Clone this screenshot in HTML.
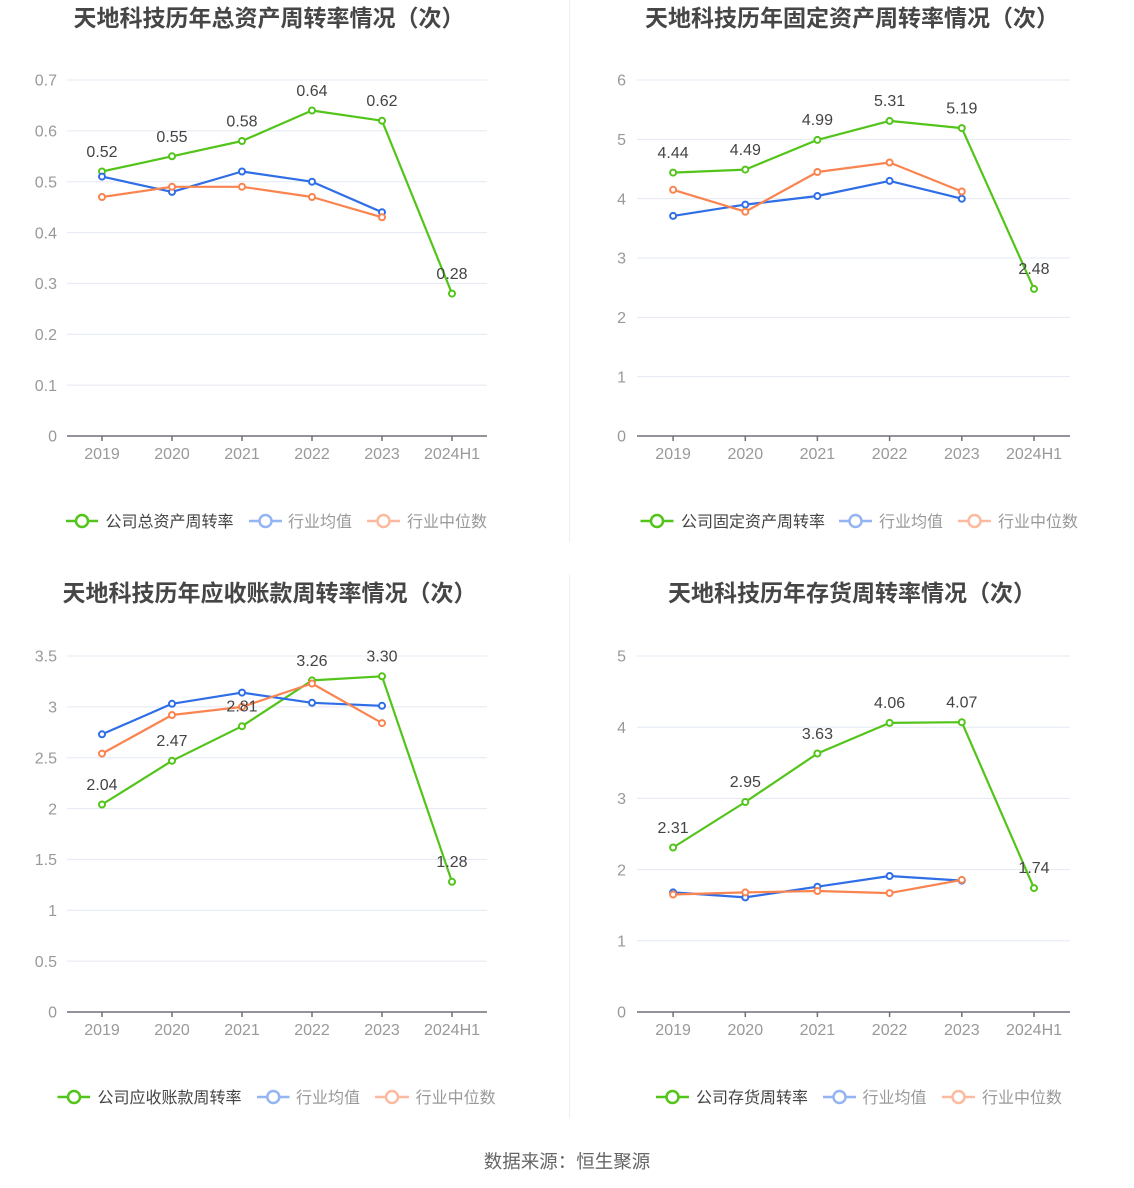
<!DOCTYPE html>
<html><head><meta charset="utf-8"><style>
html,body{margin:0;padding:0;background:#fff;}
svg{display:block;}
.t{font-family:"Liberation Sans","Noto Sans CJK SC",sans-serif;font-weight:bold;font-size:23px;fill:#464646;text-anchor:middle;}
.yl{font-family:"Liberation Sans",sans-serif;font-size:16px;fill:#999;text-anchor:end;}
.xl{font-family:"Liberation Sans",sans-serif;font-size:16px;fill:#999;text-anchor:middle;}
.dl{font-family:"Liberation Sans",sans-serif;font-size:16px;fill:#444;text-anchor:middle;}
.lg{font-family:"Liberation Sans","Noto Sans CJK SC",sans-serif;font-size:16px;fill:#444;}
.lg2{font-family:"Liberation Sans","Noto Sans CJK SC",sans-serif;font-size:16px;fill:#999;}
.ft{font-family:"Liberation Sans","Noto Sans CJK SC",sans-serif;font-size:18.5px;fill:#666;text-anchor:middle;}
.g{stroke:#e3e8f3;stroke-width:1;}
.ax{stroke:#6e7079;stroke-width:1.5;}
.sg{fill:none;stroke:#52c41a;stroke-width:2.2;stroke-linejoin:round;}
.sb{fill:none;stroke:#2f6ee6;stroke-width:2.2;stroke-linejoin:round;}
.so{fill:none;stroke:#fa8450;stroke-width:2.2;stroke-linejoin:round;}
.mg circle{fill:#fff;stroke:#52c41a;stroke-width:2;}
.mb circle{fill:#fff;stroke:#2f6ee6;stroke-width:2;}
.mo circle{fill:#fff;stroke:#fa8450;stroke-width:2;}
</style></head><body>
<svg width="1134" height="1188" viewBox="0 0 1134 1188" xmlns="http://www.w3.org/2000/svg">
<rect width="1134" height="1188" fill="#fff"/>
<line x1="569.5" y1="0" x2="569.5" y2="542" stroke="#eeeeee" stroke-width="1"/>
<line x1="569.5" y1="575" x2="569.5" y2="1118" stroke="#eeeeee" stroke-width="1"/>

<!-- ========== Chart 1 ========== -->
<text class="t" x="269" y="26">天地科技历年总资产周转率情况（次）</text>
<g>
<line class="g" x1="67" y1="80" x2="487" y2="80"/>
<line class="g" x1="67" y1="130.86" x2="487" y2="130.86"/>
<line class="g" x1="67" y1="181.71" x2="487" y2="181.71"/>
<line class="g" x1="67" y1="232.57" x2="487" y2="232.57"/>
<line class="g" x1="67" y1="283.43" x2="487" y2="283.43"/>
<line class="g" x1="67" y1="334.29" x2="487" y2="334.29"/>
<line class="g" x1="67" y1="385.14" x2="487" y2="385.14"/>
<line class="ax" x1="67" y1="436" x2="487" y2="436"/>
<line class="ax" x1="102" y1="436" x2="102" y2="441"/><line class="ax" x1="172" y1="436" x2="172" y2="441"/><line class="ax" x1="242" y1="436" x2="242" y2="441"/><line class="ax" x1="312" y1="436" x2="312" y2="441"/><line class="ax" x1="382" y1="436" x2="382" y2="441"/><line class="ax" x1="452" y1="436" x2="452" y2="441"/>
<text class="yl" x="57" y="85.7">0.7</text><text class="yl" x="57" y="136.6">0.6</text><text class="yl" x="57" y="187.4">0.5</text><text class="yl" x="57" y="238.3">0.4</text><text class="yl" x="57" y="289.1">0.3</text><text class="yl" x="57" y="340">0.2</text><text class="yl" x="57" y="390.8">0.1</text><text class="yl" x="57" y="441.7">0</text>
<text class="xl" x="102" y="459">2019</text><text class="xl" x="172" y="459">2020</text><text class="xl" x="242" y="459">2021</text><text class="xl" x="312" y="459">2022</text><text class="xl" x="382" y="459">2023</text><text class="xl" x="452" y="459">2024H1</text>
<polyline class="sg" points="102,171.5 172,156.3 242,141 312,110.5 382,120.7 452,293.6"/>
<polyline class="sb" points="102,176.6 172,191.9 242,171.5 312,181.7 382,212.2"/>
<polyline class="so" points="102,197 172,186.8 242,186.8 312,197 382,217.3"/>
<g class="mg"><circle cx="102" cy="171.5" r="3"/><circle cx="172" cy="156.3" r="3"/><circle cx="242" cy="141" r="3"/><circle cx="312" cy="110.5" r="3"/><circle cx="382" cy="120.7" r="3"/><circle cx="452" cy="293.6" r="3"/></g>
<g class="mb"><circle cx="102" cy="176.6" r="3"/><circle cx="172" cy="191.9" r="3"/><circle cx="242" cy="171.5" r="3"/><circle cx="312" cy="181.7" r="3"/><circle cx="382" cy="212.2" r="3"/></g>
<g class="mo"><circle cx="102" cy="197" r="3"/><circle cx="172" cy="186.8" r="3"/><circle cx="242" cy="186.8" r="3"/><circle cx="312" cy="197" r="3"/><circle cx="382" cy="217.3" r="3"/></g>
<text class="dl" x="102" y="157">0.52</text><text class="dl" x="172" y="142">0.55</text><text class="dl" x="242" y="126.5">0.58</text><text class="dl" x="312" y="96">0.64</text><text class="dl" x="382" y="106">0.62</text><text class="dl" x="452" y="279">0.28</text>
<line x1="66" y1="521" x2="98" y2="521" stroke="#52c41a" stroke-width="2.5"/><circle cx="82" cy="521" r="6" fill="#fff" stroke="#52c41a" stroke-width="2.5"/>
<text class="lg" x="105.5" y="527">公司总资产周转率</text>
<line x1="249" y1="521" x2="282" y2="521" stroke="#94b5f3" stroke-width="2.5"/><circle cx="265.5" cy="521" r="6" fill="#fff" stroke="#94b5f3" stroke-width="2.5"/>
<text class="lg2" x="288" y="527">行业均值</text>
<line x1="367" y1="521" x2="400" y2="521" stroke="#fcbaa0" stroke-width="2.5"/><circle cx="383.5" cy="521" r="6" fill="#fff" stroke="#fcbaa0" stroke-width="2.5"/>
<text class="lg2" x="407" y="527">行业中位数</text>
</g>

<!-- ========== Chart 2 ========== -->
<text class="t" x="852" y="26">天地科技历年固定资产周转率情况（次）</text>
<g>
<line class="g" x1="637" y1="80" x2="1070" y2="80"/>
<line class="g" x1="637" y1="139.33" x2="1070" y2="139.33"/>
<line class="g" x1="637" y1="198.67" x2="1070" y2="198.67"/>
<line class="g" x1="637" y1="258" x2="1070" y2="258"/>
<line class="g" x1="637" y1="317.33" x2="1070" y2="317.33"/>
<line class="g" x1="637" y1="376.67" x2="1070" y2="376.67"/>
<line class="ax" x1="637" y1="436" x2="1070" y2="436"/>
<line class="ax" x1="673.1" y1="436" x2="673.1" y2="441"/><line class="ax" x1="745.3" y1="436" x2="745.3" y2="441"/><line class="ax" x1="817.4" y1="436" x2="817.4" y2="441"/><line class="ax" x1="889.6" y1="436" x2="889.6" y2="441"/><line class="ax" x1="961.8" y1="436" x2="961.8" y2="441"/><line class="ax" x1="1034" y1="436" x2="1034" y2="441"/>
<text class="yl" x="626" y="85.7">6</text><text class="yl" x="626" y="145">5</text><text class="yl" x="626" y="204.4">4</text><text class="yl" x="626" y="263.7">3</text><text class="yl" x="626" y="323">2</text><text class="yl" x="626" y="382.4">1</text><text class="yl" x="626" y="441.7">0</text>
<text class="xl" x="673.1" y="459">2019</text><text class="xl" x="745.3" y="459">2020</text><text class="xl" x="817.4" y="459">2021</text><text class="xl" x="889.6" y="459">2022</text><text class="xl" x="961.8" y="459">2023</text><text class="xl" x="1034" y="459">2024H1</text>
<polyline class="sg" points="673.1,172.6 745.3,169.6 817.4,139.9 889.6,120.9 961.8,128.1 1034,288.9"/>
<polyline class="sb" points="673.1,215.9 745.3,204.6 817.4,196 889.6,180.9 961.8,198.7"/>
<polyline class="so" points="673.1,189.8 745.3,211.7 817.4,172 889.6,162.5 961.8,191.5"/>
<g class="mg"><circle cx="673.1" cy="172.6" r="3"/><circle cx="745.3" cy="169.6" r="3"/><circle cx="817.4" cy="139.9" r="3"/><circle cx="889.6" cy="120.9" r="3"/><circle cx="961.8" cy="128.1" r="3"/><circle cx="1034" cy="288.9" r="3"/></g>
<g class="mb"><circle cx="673.1" cy="215.9" r="3"/><circle cx="745.3" cy="204.6" r="3"/><circle cx="817.4" cy="196" r="3"/><circle cx="889.6" cy="180.9" r="3"/><circle cx="961.8" cy="198.7" r="3"/></g>
<g class="mo"><circle cx="673.1" cy="189.8" r="3"/><circle cx="745.3" cy="211.7" r="3"/><circle cx="817.4" cy="172" r="3"/><circle cx="889.6" cy="162.5" r="3"/><circle cx="961.8" cy="191.5" r="3"/></g>
<text class="dl" x="673.1" y="158">4.44</text><text class="dl" x="745.3" y="155">4.49</text><text class="dl" x="817.4" y="125">4.99</text><text class="dl" x="889.6" y="106">5.31</text><text class="dl" x="961.8" y="113.5">5.19</text><text class="dl" x="1034" y="274">2.48</text>
<line x1="640.5" y1="521" x2="673.5" y2="521" stroke="#52c41a" stroke-width="2.5"/><circle cx="657" cy="521" r="6" fill="#fff" stroke="#52c41a" stroke-width="2.5"/>
<text class="lg" x="681" y="527">公司固定资产周转率</text>
<line x1="839" y1="521" x2="872" y2="521" stroke="#94b5f3" stroke-width="2.5"/><circle cx="855.5" cy="521" r="6" fill="#fff" stroke="#94b5f3" stroke-width="2.5"/>
<text class="lg2" x="879" y="527">行业均值</text>
<line x1="958" y1="521" x2="991" y2="521" stroke="#fcbaa0" stroke-width="2.5"/><circle cx="974.5" cy="521" r="6" fill="#fff" stroke="#fcbaa0" stroke-width="2.5"/>
<text class="lg2" x="998" y="527">行业中位数</text>
</g>

<!-- ========== Chart 3 ========== -->
<text class="t" x="269.5" y="601">天地科技历年应收账款周转率情况（次）</text>
<g>
<line class="g" x1="67" y1="656" x2="487" y2="656"/>
<line class="g" x1="67" y1="706.86" x2="487" y2="706.86"/>
<line class="g" x1="67" y1="757.71" x2="487" y2="757.71"/>
<line class="g" x1="67" y1="808.57" x2="487" y2="808.57"/>
<line class="g" x1="67" y1="859.43" x2="487" y2="859.43"/>
<line class="g" x1="67" y1="910.29" x2="487" y2="910.29"/>
<line class="g" x1="67" y1="961.14" x2="487" y2="961.14"/>
<line class="ax" x1="67" y1="1012" x2="487" y2="1012"/>
<line class="ax" x1="102" y1="1012" x2="102" y2="1017"/><line class="ax" x1="172" y1="1012" x2="172" y2="1017"/><line class="ax" x1="242" y1="1012" x2="242" y2="1017"/><line class="ax" x1="312" y1="1012" x2="312" y2="1017"/><line class="ax" x1="382" y1="1012" x2="382" y2="1017"/><line class="ax" x1="452" y1="1012" x2="452" y2="1017"/>
<text class="yl" x="57" y="661.7">3.5</text><text class="yl" x="57" y="712.6">3</text><text class="yl" x="57" y="763.4">2.5</text><text class="yl" x="57" y="814.3">2</text><text class="yl" x="57" y="865.1">1.5</text><text class="yl" x="57" y="916">1</text><text class="yl" x="57" y="966.8">0.5</text><text class="yl" x="57" y="1017.7">0</text>
<text class="xl" x="102" y="1035">2019</text><text class="xl" x="172" y="1035">2020</text><text class="xl" x="242" y="1035">2021</text><text class="xl" x="312" y="1035">2022</text><text class="xl" x="382" y="1035">2023</text><text class="xl" x="452" y="1035">2024H1</text>
<polyline class="sg" points="102,804.5 172,760.8 242,726.2 312,680.4 382,676.3 452,881.8"/>
<polyline class="sb" points="102,734.3 172,703.8 242,692.6 312,702.8 382,705.8"/>
<polyline class="so" points="102,753.6 172,715 242,706.9 312,683.5 382,723.1"/>
<g class="mg"><circle cx="102" cy="804.5" r="3"/><circle cx="172" cy="760.8" r="3"/><circle cx="242" cy="726.2" r="3"/><circle cx="312" cy="680.4" r="3"/><circle cx="382" cy="676.3" r="3"/><circle cx="452" cy="881.8" r="3"/></g>
<g class="mb"><circle cx="102" cy="734.3" r="3"/><circle cx="172" cy="703.8" r="3"/><circle cx="242" cy="692.6" r="3"/><circle cx="312" cy="702.8" r="3"/><circle cx="382" cy="705.8" r="3"/></g>
<g class="mo"><circle cx="102" cy="753.6" r="3"/><circle cx="172" cy="715" r="3"/><circle cx="242" cy="706.9" r="3"/><circle cx="312" cy="683.5" r="3"/><circle cx="382" cy="723.1" r="3"/></g>
<text class="dl" x="102" y="790">2.04</text><text class="dl" x="172" y="746">2.47</text><text class="dl" x="242" y="711.5">2.81</text><text class="dl" x="312" y="666">3.26</text><text class="dl" x="382" y="661.5">3.30</text><text class="dl" x="452" y="867">1.28</text>
<line x1="57.5" y1="1097" x2="90" y2="1097" stroke="#52c41a" stroke-width="2.5"/><circle cx="74" cy="1097" r="6" fill="#fff" stroke="#52c41a" stroke-width="2.5"/>
<text class="lg" x="97.5" y="1103">公司应收账款周转率</text>
<line x1="257" y1="1097" x2="289.5" y2="1097" stroke="#94b5f3" stroke-width="2.5"/><circle cx="273.3" cy="1097" r="6" fill="#fff" stroke="#94b5f3" stroke-width="2.5"/>
<text class="lg2" x="296" y="1103">行业均值</text>
<line x1="375" y1="1097" x2="409" y2="1097" stroke="#fcbaa0" stroke-width="2.5"/><circle cx="392" cy="1097" r="6" fill="#fff" stroke="#fcbaa0" stroke-width="2.5"/>
<text class="lg2" x="415.6" y="1103">行业中位数</text>
</g>

<!-- ========== Chart 4 ========== -->
<text class="t" x="852" y="601">天地科技历年存货周转率情况（次）</text>
<g>
<line class="g" x1="637" y1="656" x2="1070" y2="656"/>
<line class="g" x1="637" y1="727.2" x2="1070" y2="727.2"/>
<line class="g" x1="637" y1="798.4" x2="1070" y2="798.4"/>
<line class="g" x1="637" y1="869.6" x2="1070" y2="869.6"/>
<line class="g" x1="637" y1="940.8" x2="1070" y2="940.8"/>
<line class="ax" x1="637" y1="1012" x2="1070" y2="1012"/>
<line class="ax" x1="673.1" y1="1012" x2="673.1" y2="1017"/><line class="ax" x1="745.3" y1="1012" x2="745.3" y2="1017"/><line class="ax" x1="817.4" y1="1012" x2="817.4" y2="1017"/><line class="ax" x1="889.6" y1="1012" x2="889.6" y2="1017"/><line class="ax" x1="961.8" y1="1012" x2="961.8" y2="1017"/><line class="ax" x1="1034" y1="1012" x2="1034" y2="1017"/>
<text class="yl" x="626" y="661.7">5</text><text class="yl" x="626" y="732.9">4</text><text class="yl" x="626" y="804.1">3</text><text class="yl" x="626" y="875.3">2</text><text class="yl" x="626" y="946.5">1</text><text class="yl" x="626" y="1017.7">0</text>
<text class="xl" x="673.1" y="1035">2019</text><text class="xl" x="745.3" y="1035">2020</text><text class="xl" x="817.4" y="1035">2021</text><text class="xl" x="889.6" y="1035">2022</text><text class="xl" x="961.8" y="1035">2023</text><text class="xl" x="1034" y="1035">2024H1</text>
<polyline class="sg" points="673.1,847.5 745.3,802 817.4,753.5 889.6,722.9 961.8,722.2 1034,888.1"/>
<polyline class="sb" points="673.1,892.4 745.3,897.4 817.4,886.7 889.6,876 961.8,880.6"/>
<polyline class="so" points="673.1,894.5 745.3,892.4 817.4,891 889.6,893.1 961.8,879.9"/>
<g class="mg"><circle cx="673.1" cy="847.5" r="3"/><circle cx="745.3" cy="802" r="3"/><circle cx="817.4" cy="753.5" r="3"/><circle cx="889.6" cy="722.9" r="3"/><circle cx="961.8" cy="722.2" r="3"/><circle cx="1034" cy="888.1" r="3"/></g>
<g class="mb"><circle cx="673.1" cy="892.4" r="3"/><circle cx="745.3" cy="897.4" r="3"/><circle cx="817.4" cy="886.7" r="3"/><circle cx="889.6" cy="876" r="3"/><circle cx="961.8" cy="880.6" r="3"/></g>
<g class="mo"><circle cx="673.1" cy="894.5" r="3"/><circle cx="745.3" cy="892.4" r="3"/><circle cx="817.4" cy="891" r="3"/><circle cx="889.6" cy="893.1" r="3"/><circle cx="961.8" cy="879.9" r="3"/></g>
<text class="dl" x="673.1" y="833">2.31</text><text class="dl" x="745.3" y="787">2.95</text><text class="dl" x="817.4" y="739">3.63</text><text class="dl" x="889.6" y="708">4.06</text><text class="dl" x="961.8" y="707.5">4.07</text><text class="dl" x="1034" y="873">1.74</text>
<line x1="656" y1="1097" x2="689" y2="1097" stroke="#52c41a" stroke-width="2.5"/><circle cx="672.5" cy="1097" r="6" fill="#fff" stroke="#52c41a" stroke-width="2.5"/>
<text class="lg" x="696" y="1103">公司存货周转率</text>
<line x1="823" y1="1097" x2="856" y2="1097" stroke="#94b5f3" stroke-width="2.5"/><circle cx="839.5" cy="1097" r="6" fill="#fff" stroke="#94b5f3" stroke-width="2.5"/>
<text class="lg2" x="862.5" y="1103">行业均值</text>
<line x1="942" y1="1097" x2="975" y2="1097" stroke="#fcbaa0" stroke-width="2.5"/><circle cx="958.5" cy="1097" r="6" fill="#fff" stroke="#fcbaa0" stroke-width="2.5"/>
<text class="lg2" x="982" y="1103">行业中位数</text>
</g>

<text class="ft" x="567" y="1168">数据来源：恒生聚源</text>
</svg>
</body></html>
